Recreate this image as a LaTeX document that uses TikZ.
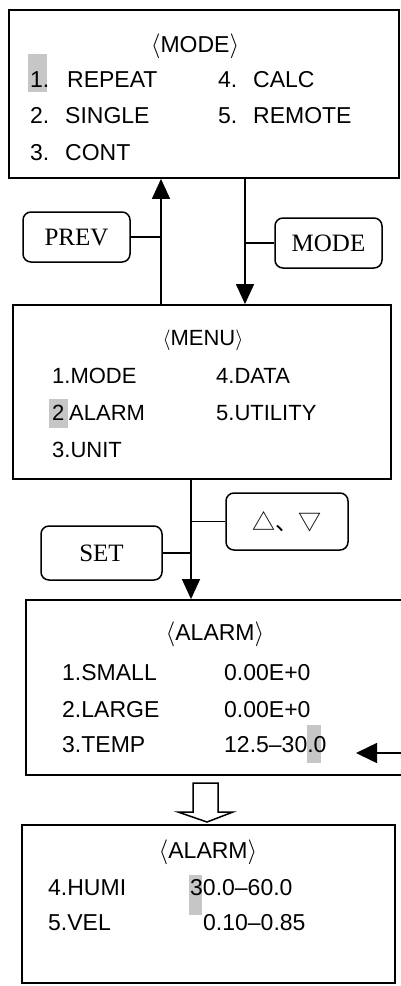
\documentclass[tikz,border=0pt]{standalone}
\usepackage{fontspec}
\setmainfont{Liberation Serif}
\newfontfamily\arial{Liberation Sans}
\newfontfamily\cjk{Noto Sans CJK SC}
\usetikzlibrary{arrows.meta}
\newcommand{\ang}[1]{$\langle$#1$\rangle$}
\begin{document}
\begin{tikzpicture}[x=1pt,y=-1pt,
 screen/.style={draw, line width=1.8pt, inner sep=0pt},
 keybox/.style={draw, rounded corners=8pt, line width=1.5pt, inner sep=0pt, font=\fontsize{25}{28}\selectfont},
 txt/.style={anchor=base west, inner sep=0pt, font=\arial\fontsize{23}{26}\selectfont},
 ttl/.style={anchor=base, inner sep=0pt, font=\arial\fontsize{23}{26}\selectfont},
 link/.style={line width=1.5pt},
 flow/.style={line width=1.5pt, -{Triangle[width=18pt,length=20pt]}},
 hl/.style={fill=gray!45, draw=none},
]
\useasboundingbox (0,0) rectangle (401,986);

% screens
\node[screen, minimum width=390pt, minimum height=168pt] (modescr) at (204,94) {};
\node[screen, minimum width=378pt, minimum height=174pt] (menuscr) at (202,392) {};
\node[screen, minimum width=378pt, minimum height=175pt] (alarmscr) at (215,687.5) {};
\node[screen, minimum width=373pt, minimum height=158pt] (alarmscrb) at (208.5,904) {};

% highlights
\fill[hl] (28,54) rectangle (47,92);
\fill[hl] (49,399) rectangle (68,428);
\fill[hl] (307,725) rectangle (321,763);
\fill[hl] (189,875) rectangle (202,915);

% MODE screen texts
\node[ttl] (t1) at (195,52) {\ang{MODE}};
\node[txt] (m1) at (30,87) {\makebox[37pt][l]{1.}REPEAT};
\node[txt] (m4) at (218,87) {\makebox[35pt][l]{4.}CALC};
\node[txt] (m2) at (30,123) {\makebox[35pt][l]{2.}SINGLE};
\node[txt] (m5) at (218,123) {\makebox[35pt][l]{5.}REMOTE};
\node[txt] (m3) at (30,160) {\makebox[35pt][l]{3.}CONT};

% MENU screen texts
\node[ttl, font=\arial\fontsize{22}{25}\selectfont] (t2) at (203,345) {\ang{MENU}};
\node[txt, font=\arial\fontsize{22}{25}\selectfont] (n1) at (52,383) {1.MODE};
\node[txt, font=\arial\fontsize{22}{25}\selectfont] (n4) at (216,383) {4.DATA};
\node[txt, font=\arial\fontsize{22}{25}\selectfont] (n2) at (52,420) {\makebox[17pt][l]{2}ALARM};
\node[txt, font=\arial\fontsize{22}{25}\selectfont] (n5) at (216,420) {5.UTILITY};
\node[txt, font=\arial\fontsize{22}{25}\selectfont] (n3) at (52,457) {3.UNIT};

% ALARM screen texts
\node[ttl] (t3) at (215,640) {\ang{ALARM}};
\node[txt] (a1) at (62,680) {1.SMALL};
\node[txt] (v1) at (224,680) {0.00E+0};
\node[txt] (a2) at (62,717) {2.LARGE};
\node[txt] (v2) at (224,717) {0.00E+0};
\node[txt] (a3) at (62,752) {3.TEMP};
\node[txt] (v3) at (224,752) {12.5–30.0};

% ALARM screen 2 texts
\node[ttl] (t4) at (208,858) {\ang{ALARM}};
\node[txt] (b4) at (48,895) {4.HUMI};
\node[txt] (w4) at (190,895) {30.0–60.0};
\node[txt] (b5) at (48,930) {5.VEL};
\node[txt] (w5) at (203,930) {0.10–0.85};

% keys
\node[keybox, minimum width=107pt, minimum height=50pt] (prev) at (76.5,237) {PREV};
\node[keybox, minimum width=107pt, minimum height=50pt] (modek) at (328.5,243) {MODE};
\node[keybox, minimum width=121pt, minimum height=54pt] (set) at (101.5,553) {SET};
\node[keybox, minimum width=122pt, minimum height=57pt, font=\cjk\fontsize{23}{26}\selectfont] (updown) at (287,521.5) {△、▽};

% connector columns
\coordinate (upx) at (161,0);
\coordinate (downx) at (245,0);
\coordinate (midx) at (191,0);

\draw[flow] (menuscr.north -| upx) -- (modescr.south -| upx);
\draw[flow] (modescr.south -| downx) -- (menuscr.north -| downx);
\draw[link] (prev.east) -- (prev.east -| upx);
\draw[link] (modek.west) -- (modek.west -| downx);

\draw[flow] (menuscr.south -| midx) -- (alarmscr.north -| midx);
\draw[link] (updown.west) -- (updown.west -| midx);
\draw[link] (set.east) -- (set.east -| midx);

% arrow from the right
\coordinate (rin) at (402,753);
\coordinate (rtip) at (356,753);
\draw[line width=1.5pt, -{Triangle[width=20pt,length=21pt]}] (rin) -- (rtip);

% hollow arrow between alarm screens
\draw[line width=1.5pt, line join=miter] (193,783) -- (218,783) -- (218,812) -- (233,812) -- (207,822) -- (178,812) -- (193,812) -- cycle;
\end{tikzpicture}
\end{document}
